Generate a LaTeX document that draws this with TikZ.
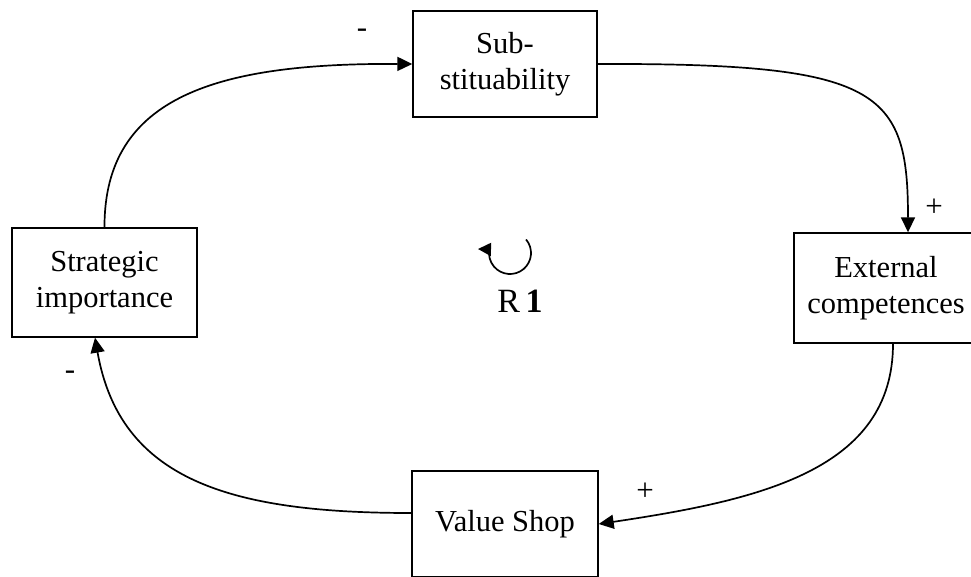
\documentclass[tikz,border=0pt]{standalone}
\usepackage{fontspec}
\setmainfont{Liberation Serif}
\usetikzlibrary{arrows.meta}
\begin{document}
\begin{tikzpicture}[x=1pt,y=-1pt,
  box/.style={draw,line width=1.4pt,minimum width=184pt,minimum height=106pt,align=center,inner sep=0pt,
    font=\fontsize{30.5}{36}\selectfont},
  link/.style={line width=1.7pt,-{Triangle[length=15pt,width=14pt]}},
  sign/.style={font=\fontsize{31}{31}\selectfont,inner sep=0pt}]
\useasboundingbox (0,0) rectangle (971,576);
\clip (0,0) rectangle (971,576);
\node[box] (sub) at (505,64) {Sub-\\stituability};
\node[box,minimum height=109pt,minimum width=185pt] (si) at (104.5,282.5) {Strategic\\importance};
\node[box,minimum height=110pt] (ext) at (886,288) {External\\competences};
\node[box,minimum width=186pt] (vs) at (505,524) {Value Shop};
\draw[link] (si.north) .. controls (104,95) and (220,63) .. (sub.west);
\draw[link] (sub.east) .. controls (880,63) and (908,90) .. ([xshift=22pt]ext.north);
\draw[link] ([xshift=7pt]ext.south) .. controls (893,470) and (760,500) .. (vs.east);
\draw[link] ([yshift=11pt]vs.west) .. controls (230,513) and (120,480) .. ([xshift=-9.5pt]si.south);
\node[sign] (m1) at (362,33) {-};
\node[sign] (p1) at (934,208) {+};
\node[sign] (p2) at (645,492) {+};
\node[sign] (m2) at (70,375) {-};
\coordinate (lc) at (510,253);
\coordinate (tip) at (478,249);
\draw[line width=1.7pt,-{Triangle[length=13pt,width=13pt]}] ([shift={(-40:21)}]lc) arc[start angle=-40,end angle=190,radius=21] -- (tip);
\node[font=\fontsize{34}{34}\selectfont,inner sep=0pt] (r1) at (520,301) {R\,\textbf{1}};
\end{tikzpicture}
\end{document}
